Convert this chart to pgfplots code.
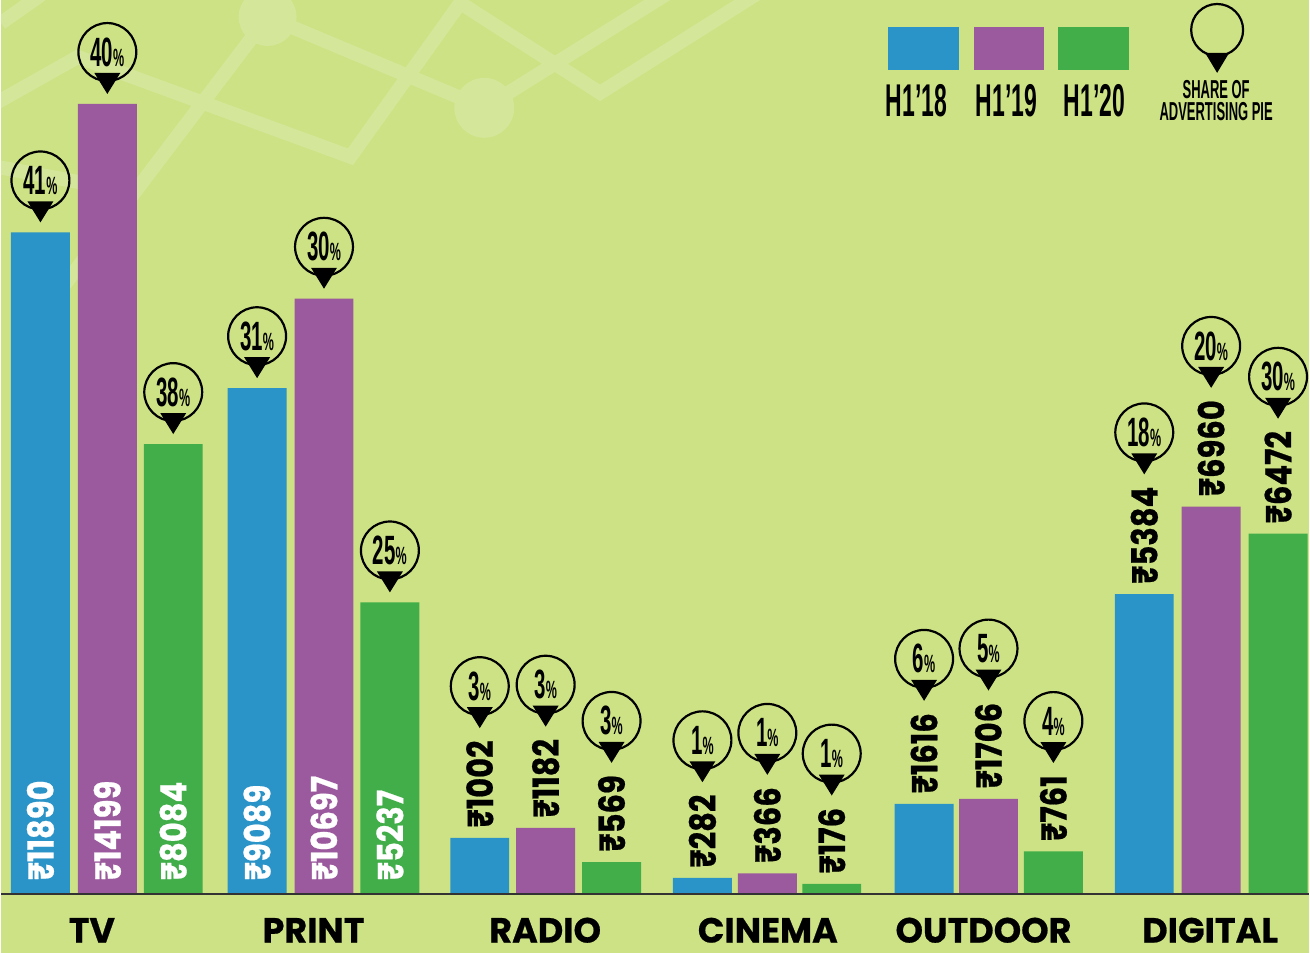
\documentclass[border=0pt]{standalone}
\usepackage{pgfplots}
\pgfplotsset{compat=1.18}
\usepackage{fontspec}
\setmainfont{Liberation Sans}
\newfontfamily\cond{Liberation Sans}[FakeStretch=0.5]
\newfontfamily\pop{Poppins}[FakeBold=0.6]
\newfontfamily\popv{Poppins}[FakeStretch=0.85,FakeBold=0.6]
\definecolor{bg}{HTML}{CDE284}
\definecolor{deco}{HTML}{D4E69A}
\definecolor{cblue}{HTML}{2A93C7}
\definecolor{cpurp}{HTML}{9B5A9D}
\definecolor{cgreen}{HTML}{41AE4A}
\newcommand\vfont{\popv\bfseries\fontsize{18}{18}\selectfont}
\tikzset{
  pin/.pic={
    \draw[line width=1.1pt] (0pt,21pt) circle[radius=14.5pt];
    \fill (0pt,0pt) -- (-6.5pt,10.5pt) -- (6.5pt,10.5pt) -- cycle;
    \node[inner sep=0pt] at (0pt,21pt) {\cond\bfseries\fontsize{20.5}{20.5}\selectfont #1\fontsize{12.5}{12.5}\selectfont\%};
  },
  pinempty/.pic={
    \draw[line width=1.1pt] (0pt,21.5pt) circle[radius=13pt];
    \fill (0pt,0pt) -- (-6pt,10pt) -- (6pt,10pt) -- cycle;
  }
}
\newcommand\barin[3]{%
  \node[rotate=90,anchor=west,inner sep=0pt,text=white,font=\vfont] at ([yshift=6.5pt]axis cs:#1,0) {₹#2};
  \path ([yshift=5pt]axis cs:#1,#2) pic{pin=#3};}
\newcommand\barout[3]{%
  \node[rotate=90,anchor=west,inner sep=0pt,font=\vfont] (L) at ([yshift=5pt]axis cs:#1,#2) {₹#2};
  \path ([yshift=6pt]L.east) pic{pin=#3};}
\begin{document}
\begin{tikzpicture}
% background and decoration (pixel-like frame: x right, y down)
\begin{scope}[x=0.5pt,y=-0.5pt,yshift=477pt]
  \fill[bg] (0,0) rectangle (1310,954);
  \begin{scope}
    \clip (0,0) rectangle (1310,954);
    \begin{scope}[draw=deco, fill=deco, line width=7pt, overlay]
      \draw (267,17) -- (484,108);
      \draw (267,17) -- (60,290);
      \draw (-10,106) -- (77,57) -- (350,157) -- (460,3) -- (600,93) -- (760,-8);
      \draw (484,108) -- (670,-8);
      \draw (0,23) -- (40,-5);
      \draw (-10,166) -- (130,192);
      \fill (267,17) circle[radius=14.5pt];
      \fill (484,108) circle[radius=15pt];
    \end{scope}
  \end{scope}
\end{scope}
\begin{axis}[
  at={(0pt,0pt)}, anchor=south west,
  scale only axis, width=655pt, height=477pt,
  xmin=0, xmax=1310, ymin=-1059, ymax=16068,
  axis lines=none, ticks=none, clip=false,
]
\addplot[ybar, bar width=59, bar shift=0pt, fill=cblue, draw=none]
  coordinates {(39.5,11890) (256.5,9089) (479.5,1002) (702.5,282) (924.5,1616) (1145,5384)};
\addplot[ybar, bar width=59, bar shift=0pt, fill=cpurp, draw=none]
  coordinates {(106.5,14199) (323.5,10697) (545.5,1182) (767.5,366) (989,1706) (1212,6960)};
\addplot[ybar, bar width=59, bar shift=0pt, fill=cgreen, draw=none]
  coordinates {(172.5,8084) (389.5,5237) (611.5,569) (832,176) (1054,761) (1279,6472)};
\draw[black!80, line width=1pt] (axis cs:0,0) -- (axis cs:1310,0);
% TV, PRINT: labels inside bars
\barin{39.5}{11890}{41}
\barin{106.5}{14199}{40}
\barin{172.5}{8084}{38}
\barin{256.5}{9089}{31}
\barin{323.5}{10697}{30}
\barin{389.5}{5237}{25}
% others: labels above bars
\barout{479.5}{1002}{3}
\barout{545.5}{1182}{3}
\barout{611.5}{569}{3}
\barout{702.5}{282}{1}
\barout{767.5}{366}{1}
\barout{832}{176}{1}
\barout{924.5}{1616}{6}
\barout{989}{1706}{5}
\barout{1054}{761}{4}
\barout{1145}{5384}{18}
\barout{1212}{6960}{20}
\barout{1279}{6472}{30}
\end{axis}
% category names and legend
\begin{scope}[x=0.5pt,y=-0.5pt,yshift=477pt]
  \foreach \xc/\nm in {91/TV,313/PRINT,545/RADIO,768/CINEMA,984/OUTDOOR,1211/DIGITAL}
    \node[anchor=base, inner sep=0pt, font=\pop\bfseries\fontsize{17.5}{17.5}\selectfont] at (\xc,944) {\nm};
  \fill[cblue] (888,27) rectangle (959,70);
  \fill[cpurp] (974,27) rectangle (1045,70);
  \fill[cgreen] (1059,27) rectangle (1130,70);
  \node[anchor=base, inner sep=0pt, font=\cond\bfseries\fontsize{23}{23}\selectfont] at (917,117) {H1’18};
  \node[anchor=base, inner sep=0pt, font=\cond\bfseries\fontsize{23}{23}\selectfont] at (1007,117) {H1’19};
  \node[anchor=base, inner sep=0pt, font=\cond\bfseries\fontsize{23}{23}\selectfont] at (1095,117) {H1’20};
  \path (1218,73) pic{pinempty};
  \node[anchor=base, inner sep=0pt, align=center, font=\cond\bfseries\fontsize{13}{11}\selectfont] at (1217,121) {SHARE OF\\ADVERTISING PIE};
\end{scope}
\end{tikzpicture}
\end{document}
